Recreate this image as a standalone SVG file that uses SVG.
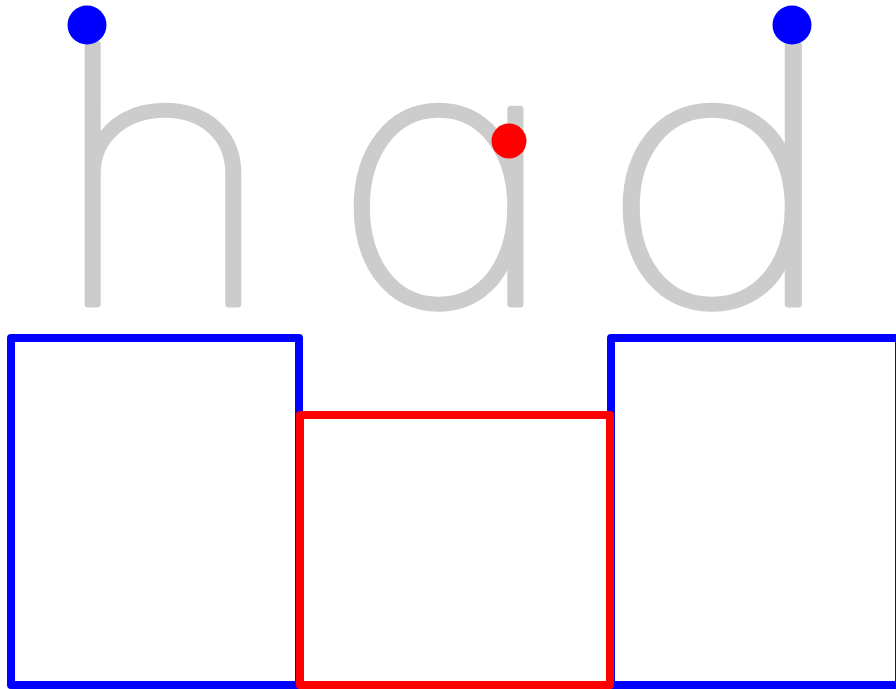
<svg xmlns="http://www.w3.org/2000/svg" width="896" height="689" viewBox="0 0 896 689">
  <style>
    .letter { font-family: Inter, "Noto Sans", "Liberation Sans", sans-serif; font-weight: 100; font-size: 357px; fill: #cccccc; stroke: #cccccc; stroke-width: 7; stroke-linejoin: round; text-anchor: middle; font-feature-settings: "cv11" 1; }
    .box { fill: none; stroke-width: 8; stroke-linejoin: round; }
    .blue { stroke: #0000ff; }
    .red { stroke: #ff0000; }
    .dot-blue { fill: #0000ff; }
    .dot-red { fill: #ff0000; }
  </style>
  <rect width="896" height="689" fill="#ffffff"/>
  <g id="letter-h">
    <text class="letter" x="0" y="304" transform="translate(163 0) scale(1.07 1)">h</text>
    <circle class="dot-blue" cx="87" cy="25" r="19.5"/>
  </g>
  <g id="letter-a">
    <text class="letter" x="0" y="304" transform="translate(445 0) scale(1.08 1)">a</text>
    <circle class="dot-red" cx="509" cy="141" r="17.5"/>
  </g>
  <g id="letter-d">
    <text class="letter" x="0" y="304" transform="translate(719 0) scale(1.14 1)">d</text>
    <circle class="dot-blue" cx="792" cy="25" r="19.5"/>
  </g>
  <g id="boxes">
    <rect id="box-left" class="box blue" x="11" y="338" width="288" height="347"/>
    <rect id="box-right" class="box blue" x="611" y="338" width="288" height="347"/>
    <rect id="box-middle" class="box red" x="300" y="415" width="310" height="270"/>
  </g>
</svg>
